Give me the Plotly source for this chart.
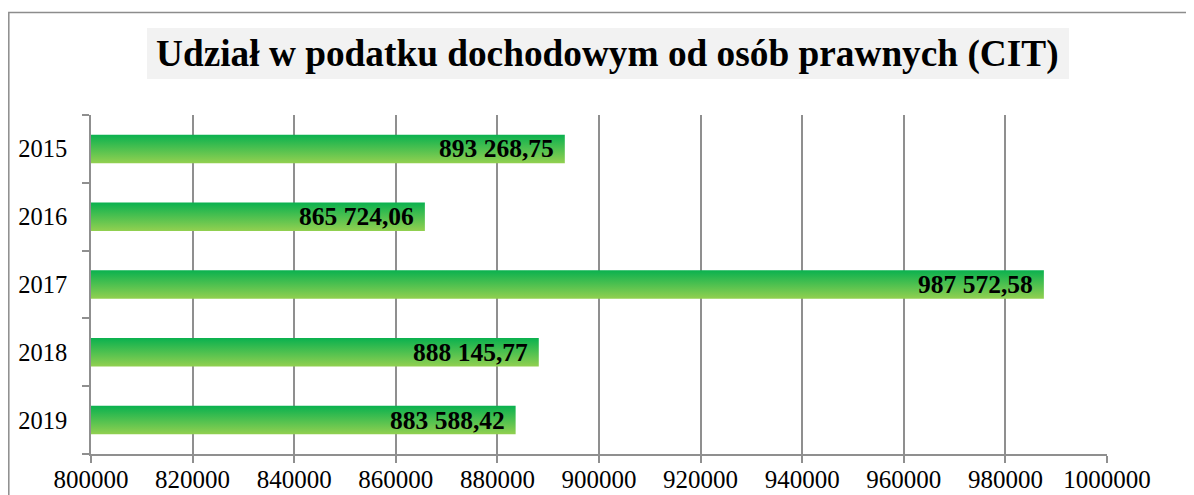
import plotly.graph_objects as go

years = ["2015", "2016", "2017", "2018", "2019"]
values = [893268.75, 865724.06, 987572.58, 888145.77, 883588.42]
x_ticks = [800000, 820000, 840000, 860000, 880000, 900000, 920000, 940000, 960000, 980000, 1000000]
title_text = "Udział w podatku dochodowym od osób prawnych (CIT)"

AXIS_MIN, AXIS_MAX = 800000, 1000000
HALF = 0.21  # half bar thickness in category units

def fmt_pl(v):
    return f"{v:,.2f}".replace(",", " ").replace(".", ",")

n = len(years)
pos = [n - 1 - i for i in range(n)]  # 2015 at top

fig = go.Figure()
for yr, v, p in zip(years, values, pos):
    fig.add_trace(go.Scatter(
        x=[AXIS_MIN, v, v, AXIS_MIN, AXIS_MIN],
        y=[p - HALF, p - HALF, p + HALF, p + HALF, p - HALF],
        mode="lines", fill="toself", line=dict(width=0),
        fillgradient=dict(type="vertical",
                          colorscale=[[0, "#92D050"], [1, "#0AB14F"]]),
        hoverinfo="skip", showlegend=False, name=yr,
    ))
    fig.add_annotation(x=v, y=p, xref="x", yref="y", text=f"<b>{fmt_pl(v)}</b>",
                       showarrow=False, xanchor="right", yanchor="middle", xshift=-9,
                       font=dict(family="Liberation Serif", size=25.5, color="#000000"))

# title background box
fig.add_shape(type="rect", xref="paper", yref="paper",
              x0=0.0551, x1=0.9626, y0=1.1062, y1=1.2566,
              line=dict(width=0), fillcolor="#F2F2F2", layer="below")
fig.add_annotation(x=0.5079, y=1.1814, xref="paper", yref="paper",
                   text=f"<b>{title_text}</b>", showarrow=False,
                   xanchor="center", yanchor="middle",
                   font=dict(family="Liberation Serif", size=37.3, color="#000000"))

# outer chart frame
fig.add_shape(type="rect", xref="paper", yref="paper",
              x0=-0.0809, x1=1.2, y0=-0.3, y1=1.3024,
              line=dict(color="#8C8C8C", width=1.5), fillcolor="rgba(0,0,0,0)", layer="below")

grid_col = "#8F8F8F"
fig.update_xaxes(range=[AXIS_MIN, AXIS_MAX], tickvals=x_ticks, tickformat="d",
                 showgrid=True, gridcolor=grid_col, gridwidth=1.6,
                 showline=True, linecolor=grid_col, linewidth=1.6,
                 ticks="outside", ticklen=7, tickcolor=grid_col, tickwidth=1.6,
                 zeroline=False, ticklabelstandoff=-5, automargin=False,
                 tickfont=dict(family="Liberation Serif", size=25, color="#000000"))
fig.update_yaxes(range=[-0.5, n - 0.5], tickvals=pos, ticktext=years,
                 showgrid=False, zeroline=False, automargin=False,
                 showline=True, linecolor=grid_col, linewidth=1.6,
                 ticks="", ticklabelstandoff=17,
                 minor=dict(tickvals=[i - 0.5 for i in range(n + 1)], ticks="outside",
                            ticklen=7, tickcolor=grid_col, tickwidth=1.6, showgrid=False),
                 tickfont=dict(family="Liberation Serif", size=24.5, color="#000000"))

# figure sized to fit inside the page next to its 8px body margin
fig.update_layout(width=1186, height=487,
                  margin=dict(l=83, r=87, t=107, b=41, autoexpand=False),
                  paper_bgcolor="#FFFFFF", plot_bgcolor="#FFFFFF",
                  showlegend=False)

fig.write_html("out.html")
